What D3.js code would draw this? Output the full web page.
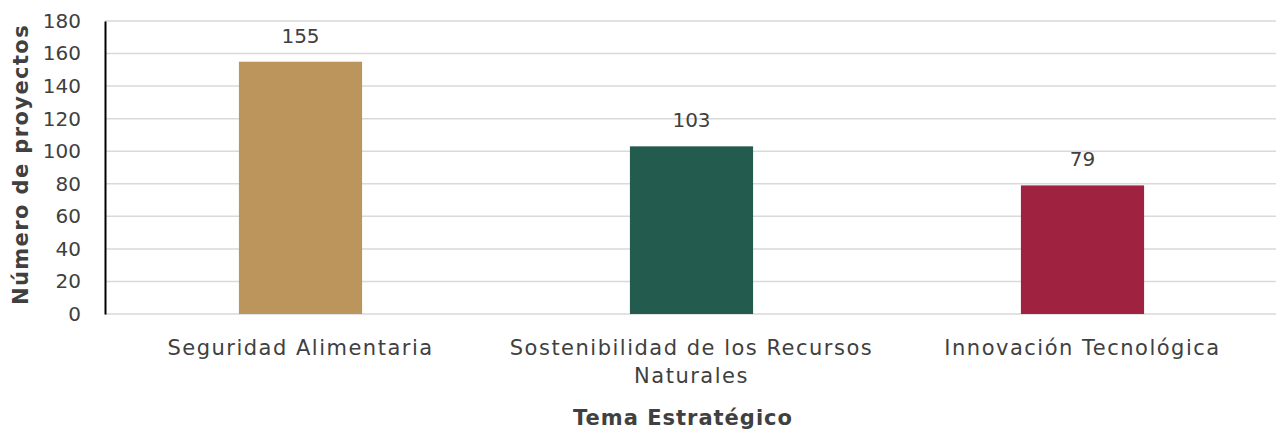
<!DOCTYPE html>
<html>
<head>
<meta charset="utf-8">
<script src="https://cdn.jsdelivr.net/npm/d3@7"></script>
<style>
  body { margin: 0; background: #fff; }
  svg text { font-family: "DejaVu Sans", sans-serif; fill: #404040; }
</style>
</head>
<body>
<div id="chart"></div>
<script>
// data
const categories = [
    ['Seguridad Alimentaria'],
    ['Sostenibilidad de los Recursos', 'Naturales'],
    ['Innovación Tecnológica']
];
const values = [155, 103, 79];
const colors = ['#bc955c', '#235b4e', '#9f2241'];
const yTicks = [0, 20, 40, 60, 80, 100, 120, 140, 160, 180];

const width = 1276, height = 432;
const margin = { top: 21, right: 0, bottom: 118, left: 105 };
const plotW = 1173; // 3 bands of ~391px, last one runs off the right edge
const plotH = height - margin.top - margin.bottom;

const svg = d3.select('#chart').append('svg')
    .attr('width', width)
    .attr('height', height);

const x = d3.scaleBand()
    .domain(d3.range(values.length))
    .range([margin.left, margin.left + plotW])
    .paddingInner(0.685)
    .paddingOuter(0.3425);

const y = d3.scaleLinear()
    .domain([0, 180])
    .range([margin.top + plotH, margin.top]);

// gridlines
svg.append('g')
    .selectAll('line')
    .data(yTicks)
    .join('line')
        .attr('x1', margin.left)
        .attr('x2', width)
        .attr('y1', d => y(d))
        .attr('y2', d => y(d))
        .style('stroke', '#d9d9d9')
        .style('stroke-width', 1.5);

// bars
svg.append('g')
    .selectAll('rect')
    .data(values)
    .join('rect')
        .attr('x', (d, i) => x(i))
        .attr('y', d => y(d))
        .attr('width', x.bandwidth())
        .attr('height', d => y(0) - y(d))
        .style('fill', (d, i) => colors[i]);

// value labels
svg.append('g')
    .selectAll('text')
    .data(values)
    .join('text')
        .attr('x', (d, i) => x(i) + x.bandwidth() / 2)
        .attr('y', d => y(d) - 19)
        .attr('text-anchor', 'middle')
        .style('font-size', '20px')
        .text(d => d);

// y axis
let yAxis = d3.axisLeft(y).tickValues(yTicks).tickSize(0).tickPadding(24);
let yg = svg.append('g')
    .attr('transform', `translate(${margin.left},0)`)
    .call(yAxis);
yg.select('.domain').style('stroke', '#000').style('stroke-width', 2);
yg.selectAll('text')
    .style('font-size', '20px')
    .style('fill', '#404040')
    .attr('font-family', null);

// category labels (wrapped like the original)
let cat = svg.append('g')
    .selectAll('text')
    .data(categories)
    .join('text')
        .attr('x', (d, i) => x(i) + x.bandwidth() / 2)
        .attr('y', 355)
        .attr('text-anchor', 'middle')
        .style('font-size', '21px')
        .style('letter-spacing', '1.5px');
cat.selectAll('tspan')
    .data(d => d)
    .join('tspan')
        .attr('x', function() { return this.parentNode.getAttribute('x'); })
        .attr('dy', (d, i) => i === 0 ? 0 : 28)
        .text(d => d);

// axis titles
svg.append('text')
    .attr('x', 683)
    .attr('y', 425)
    .attr('text-anchor', 'middle')
    .style('font-size', '21px')
    .style('font-weight', 'bold')
    .style('letter-spacing', '1px')
    .text('Tema Estratégico');

svg.append('text')
    .attr('transform', `translate(28,${margin.top + plotH / 2 - 3}) rotate(-90)`)
    .attr('text-anchor', 'middle')
    .style('font-size', '21px')
    .style('font-weight', 'bold')
    .style('letter-spacing', '1.4px')
    .text('Número de proyectos');
</script>
</body>
</html>
